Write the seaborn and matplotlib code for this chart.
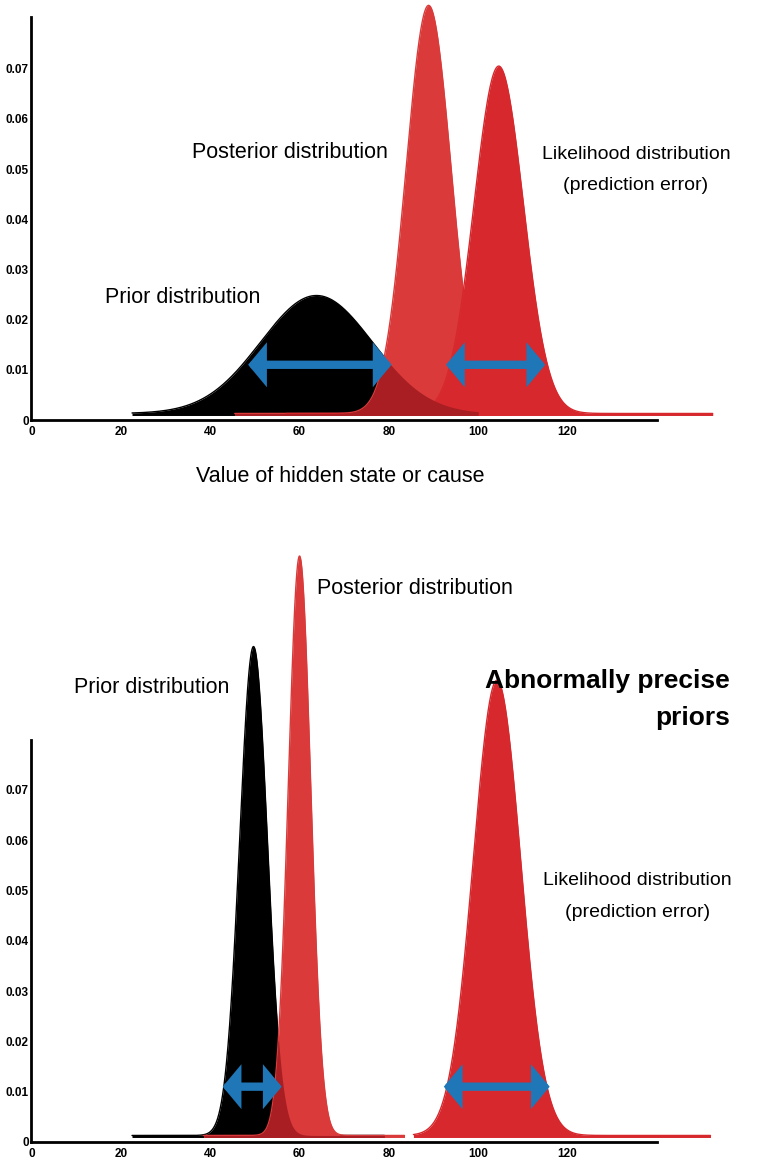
import numpy as np
import pandas as pd
import matplotlib
matplotlib.use("Agg")
import matplotlib.pyplot as plt
import seaborn as sns
from matplotlib.patches import FancyArrowPatch

sns.set_theme(style="white")
plt.rcParams['font.family'] = ['Liberation Sans', 'DejaVu Sans']
plt.rcParams['text.color'] = 'black'

# ---- data ----
names = ["Prior", "Posterior", "Likelihood"]
top_means = [63.8, 88.9, 104.6]
top_sds = [12.5, 5.0, 5.5]
top_peaks = [0.0235, 0.0813, 0.0692]
top_ranges = [(22.5, 100), (45.5, 107.5), (57, 152.5)]
bot_means = [49.7, 60.0, 104.2]
bot_sds = [3.1, 2.5, 5.3]
bot_peaks = [0.0972, 0.1152, 0.0905]
bot_ranges = [(22.5, 79), (38.5, 83.5), (85.5, 152)]
baseline = 0.0013
x_ticks = [0, 20, 40, 60, 80, 100, 120]
y_ticks = [0, 0.01, 0.02, 0.03, 0.04, 0.05, 0.06, 0.07]
top_arrows = [(48.5, 80.6, 0.011), (92.8, 115.0, 0.011)]
bot_arrows = [(42.8, 56.0, 0.011), (92.3, 116.0, 0.011)]

colors = {"Prior": "#000000", "Posterior": "#DA3A3A", "Likelihood": "#D6282D"}
overlap_color = "#A81E22"

def build(means, sds, peaks, ranges):
    rows = []
    for n, m, s, p, (a, b) in zip(names, means, sds, peaks, ranges):
        xs = np.linspace(a, b, 800)
        ys = baseline + p * np.exp(-0.5 * ((xs - m) / s) ** 2)
        rows.append(pd.DataFrame({"x": xs, "density": ys, "dist": n}))
    return pd.concat(rows, ignore_index=True)

top_df = build(top_means, top_sds, top_peaks, top_ranges)
bot_df = build(bot_means, bot_sds, bot_peaks, bot_ranges)

W, H = 760, 1162
fig = plt.figure(figsize=(W / 100, H / 100), dpi=100)
px_per_unit = 4.467
x0 = 31.5

def make_axes(bottom_px, top_px, px_per_001):
    ax = fig.add_axes([x0 / W, 1 - bottom_px / H, (W - x0) / W, (bottom_px - top_px) / H])
    ax.set_xlim(0, (W - x0) / px_per_unit)
    ax.set_ylim(0, (bottom_px - top_px) / px_per_001 * 0.01)
    return ax

ax_top = make_axes(420, 0, 50.2)
ax_bot = make_axes(1142, 540, 50.3)

def draw(ax, df, arrows, ytop):
    for n in names:
        d = df[df["dist"] == n]
        ax.fill_between(d["x"], 0.0009, d["density"], color=colors[n],
                        linewidth=0, zorder=2)
        sns.lineplot(data=d, x="x", y="density", ax=ax, color=colors[n],
                     linewidth=1.0, zorder=2, legend=False)
    # overlap of the prior with the posterior, shown darker
    prior = df[df["dist"] == "Prior"]
    post = df[df["dist"] == "Posterior"]
    xs = prior["x"].to_numpy()
    yp = prior["density"].to_numpy()
    mask = (xs >= post["x"].min()) & (xs <= post["x"].max())
    yr = np.interp(xs, post["x"], post["density"])
    ax.fill_between(xs[mask], 0.0009, np.minimum(yp, yr)[mask], color=overlap_color,
                    linewidth=0, zorder=3)
    for (a, b, y) in arrows:
        arr = FancyArrowPatch((a, y), (b, y), arrowstyle="<|-|>,head_length=0.3,head_width=0.36",
                              mutation_scale=22, color="#1F77B8", linewidth=6,
                              shrinkA=0, shrinkB=0, zorder=5, joinstyle="miter")
        ax.add_patch(arr)
    for s in ["top", "right"]:
        ax.spines[s].set_visible(False)
    for s in ["left", "bottom"]:
        ax.spines[s].set_linewidth(2)
        ax.spines[s].set_color("black")
    ax.spines["bottom"].set_bounds(0, 140)
    ax.spines["left"].set_bounds(0, ytop)
    ax.set_xticks(x_ticks)
    ax.set_yticks(y_ticks)
    ax.set_xticklabels([str(t) for t in x_ticks])
    ax.set_yticklabels(["0" if t == 0 else f"{t:.2f}" for t in y_ticks])
    ax.tick_params(axis="both", direction="in", length=4, width=1.2, labelsize=8.5,
                   colors="black", pad=2)
    ax.tick_params(axis="x", pad=4)
    for lab in ax.get_xticklabels() + ax.get_yticklabels():
        lab.set_fontweight("bold")
    ax.set_xlabel("")
    ax.set_ylabel("")
    ax.patch.set_alpha(0)

draw(ax_top, top_df, top_arrows, 0.0802)
draw(ax_bot, bot_df, bot_arrows, 0.080)

fs = 15.5
fs_l = 14
ax_top.text(57.9, 0.0533, "Posterior distribution", ha="center", va="center", fontsize=fs)
ax_top.text(135.3, 0.0498, "Likelihood distribution\n(prediction error)", ha="center",
            va="center", fontsize=fs_l, linespacing=2.15)
ax_top.text(33.9, 0.0244, "Prior distribution", ha="center", va="center", fontsize=fs)
fig.text(340 / W, 1 - 477 / H, "Value of hidden state or cause", ha="center", va="center",
         fontsize=15.5)

ax_bot.text(85.9, 0.1100, "Posterior distribution", ha="center", va="center", fontsize=fs)
ax_bot.text(27.0, 0.0903, "Prior distribution", ha="center", va="center", fontsize=fs)
ax_bot.text(156.4, 0.0880, "Abnormally precise\npriors", ha="right", va="center",
            fontsize=19, fontweight="bold", linespacing=1.7)
ax_bot.text(135.6, 0.0488, "Likelihood distribution\n(prediction error)", ha="center",
            va="center", fontsize=fs_l, linespacing=2.15)

fig.savefig("out.png", dpi=100, facecolor="white")
